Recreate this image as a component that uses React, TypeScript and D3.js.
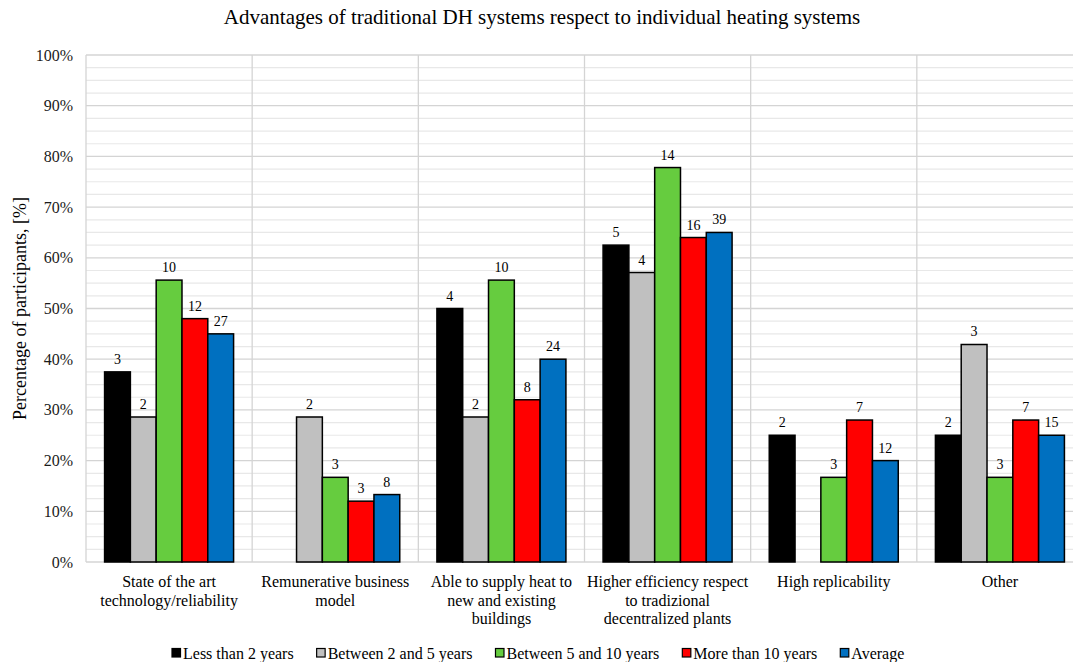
import React, { useEffect, useRef } from "react";
import * as d3 from "d3";

const title = "Advantages of traditional DH systems respect to individual heating systems";
const yAxisTitle = "Percentage of participants, [%]";

const categories = [
  ["State of the art", "technology/reliability"],
  ["Remunerative business", "model"],
  ["Able to supply heat to", "new and existing", "buildings"],
  ["Higher efficiency respect", "to tradizional", "decentralized plants"],
  ["High replicability"],
  ["Other"],
];

const seriesNames = [
  "Less than 2 years",
  "Between 2 and 5 years",
  "Between 5 and 10 years",
  "More than 10 years",
  "Average",
];
const seriesColors = ["#000000", "#c0c0c0", "#66cc3f", "#ff0000", "#0070c0"];

// percentages per series (one value per category)
const lessThan2 = [37.5, 0, 50, 62.5, 25, 25];
const between2and5 = [28.6, 28.6, 28.6, 57.1, 0, 42.9];
const between5and10 = [55.6, 16.7, 55.6, 77.8, 16.7, 16.7];
const moreThan10 = [48, 12, 32, 64, 28, 28];
const average = [45, 13.3, 40, 65, 20, 25];

// count labels shown above bars
const lessThan2Labels = [3, null, 4, 5, 2, 2];
const between2and5Labels = [2, 2, 2, 4, null, 3];
const between5and10Labels = [10, 3, 10, 14, 3, 3];
const moreThan10Labels = [12, 3, 8, 16, 7, 7];
const averageLabels = [27, 8, 24, 39, 12, 15];

const yTicks = [0, 10, 20, 30, 40, 50, 60, 70, 80, 90, 100];

const seriesValues = [lessThan2, between2and5, between5and10, moreThan10, average];
const seriesLabels = [lessThan2Labels, between2and5Labels, between5and10Labels, moreThan10Labels, averageLabels];

const FONT = "'Liberation Serif', 'Times New Roman', serif";

export default function App() {
  const ref = useRef<SVGSVGElement | null>(null);

  useEffect(() => {
    const svg = d3.select(ref.current);
    svg.selectAll("*").remove();

    const left = 86;
    const right = 1083;
    const top = 55;
    const bottom = 562;

    const catKeys = categories.map((_, i) => String(i));
    const x = d3.scaleBand<string>().domain(catKeys).range([left, right]).padding(0);
    const xi = d3
      .scaleBand<string>()
      .domain(seriesNames)
      .range([0, x.bandwidth()])
      .paddingInner(0)
      .paddingOuter(0.72);
    const y = d3.scaleLinear().domain([0, 100]).range([bottom, top]);

    const g = svg.append("g");

    // minor gridlines
    const minor = d3.range(0, 100.01, 2.5).filter((v) => v % 10 !== 0);
    g.selectAll(".minor")
      .data(minor)
      .enter()
      .append("line")
      .attr("x1", left)
      .attr("x2", right)
      .attr("y1", (d) => y(d))
      .attr("y2", (d) => y(d))
      .attr("stroke", "#e8e8e8")
      .attr("stroke-width", 1.2);

    // major gridlines
    g.selectAll(".major")
      .data(yTicks)
      .enter()
      .append("line")
      .attr("x1", left)
      .attr("x2", right)
      .attr("y1", (d) => y(d))
      .attr("y2", (d) => y(d))
      .attr("stroke", "#d4d4d4")
      .attr("stroke-width", 1.3);

    // vertical category separators
    const seps = catKeys.map((k) => x(k) as number);
    g.selectAll(".sep")
      .data(seps)
      .enter()
      .append("line")
      .attr("x1", (d) => d)
      .attr("x2", (d) => d)
      .attr("y1", top)
      .attr("y2", bottom)
      .attr("stroke", "#d4d4d4")
      .attr("stroke-width", 1.3);

    // y tick labels
    g.selectAll(".ytick")
      .data(yTicks)
      .enter()
      .append("text")
      .attr("x", 73)
      .attr("y", (d) => y(d) + 5.5)
      .attr("text-anchor", "end")
      .attr("font-family", FONT)
      .attr("font-size", 16)
      .attr("fill", "#1a1a1a")
      .text((d) => `${d}%`);

    // bars
    seriesNames.forEach((s, si) => {
      const vals = seriesValues[si];
      const labs = seriesLabels[si];
      categories.forEach((_, ci) => {
        const v = vals[ci];
        if (!v) return;
        const bx = (x(String(ci)) as number) + (xi(s) as number);
        g.append("rect")
          .attr("x", bx)
          .attr("y", y(v))
          .attr("width", xi.bandwidth())
          .attr("height", y(0) - y(v))
          .attr("fill", seriesColors[si])
          .attr("stroke", "#000")
          .attr("stroke-width", 1.5);
        const lab = labs[ci];
        if (lab !== null && lab !== undefined) {
          g.append("text")
            .attr("x", bx + xi.bandwidth() / 2)
            .attr("y", y(v) - 8)
            .attr("text-anchor", "middle")
            .attr("font-family", FONT)
            .attr("font-size", 14)
            .attr("fill", "#000")
            .text(String(lab));
        }
      });
    });

    // category labels
    categories.forEach((lines, ci) => {
      const cx = (x(String(ci)) as number) + x.bandwidth() / 2;
      lines.forEach((line, li) => {
        g.append("text")
          .attr("x", cx)
          .attr("y", 587 + li * 18.7)
          .attr("text-anchor", "middle")
          .attr("font-family", FONT)
          .attr("font-size", 16)
          .attr("fill", "#000")
          .text(line);
      });
    });

    // title
    g.append("text")
      .attr("x", 542)
      .attr("y", 24)
      .attr("text-anchor", "middle")
      .attr("font-family", FONT)
      .attr("font-size", 21)
      .attr("fill", "#000")
      .text(title);

    // y axis title
    g.append("text")
      .attr("transform", `translate(26, ${(top + bottom) / 2}) rotate(-90)`)
      .attr("text-anchor", "middle")
      .attr("font-family", FONT)
      .attr("font-size", 18)
      .attr("fill", "#000")
      .text(yAxisTitle);

    // legend
    let lx = 172;
    const ly = 653;
    seriesNames.forEach((s, si) => {
      g.append("rect")
        .attr("x", lx)
        .attr("y", ly - 4.5)
        .attr("width", 8.5)
        .attr("height", 8.5)
        .attr("fill", seriesColors[si])
        .attr("stroke", "#000")
        .attr("stroke-width", 1.2);
      const t = g
        .append("text")
        .attr("x", lx + 11)
        .attr("y", ly + 5.5)
        .attr("font-family", FONT)
        .attr("font-size", 16)
        .attr("fill", "#000")
        .text(s);
      const w = (t.node() as SVGTextElement).getComputedTextLength();
      lx = lx + 11 + w + 23;
    });
  }, []);

  return (
    <svg
      ref={ref}
      width={1073}
      height={662}
      style={{ position: "absolute", left: 0, top: 0, background: "#fff" }}
    />
  );
}
